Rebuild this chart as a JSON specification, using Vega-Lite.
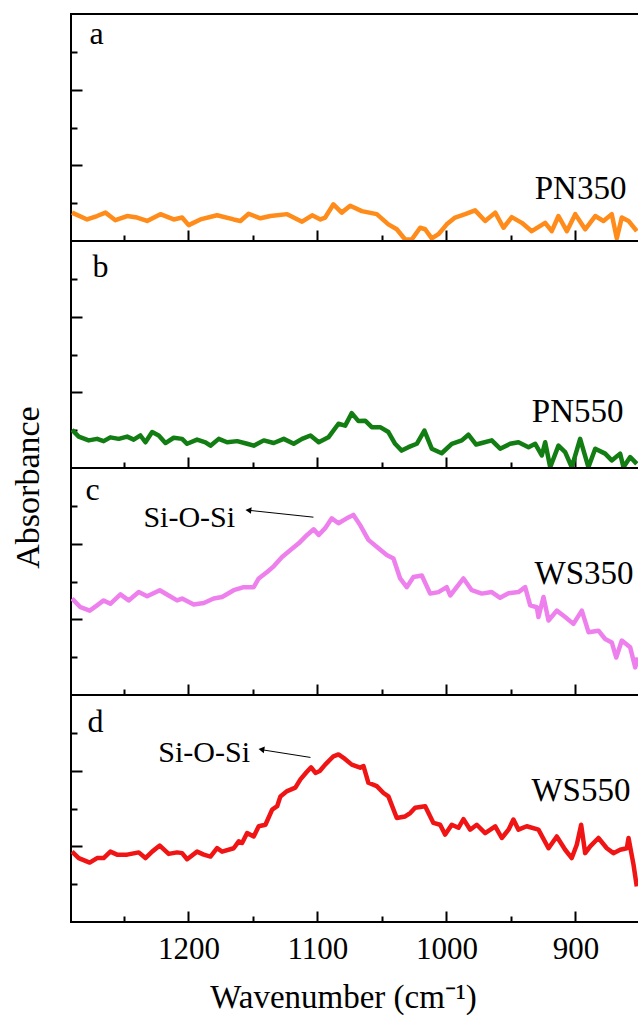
{
  "$schema": "https://vega.github.io/schema/vega-lite/v6.json",
  "background": "white",
  "padding": {"left": 9, "top": 13, "right": 0, "bottom": 0},
  "spacing": 0,
  "bounds": "flush",
  "config": {
    "font": "Liberation Serif",
    "view": {"stroke": "black", "strokeWidth": 2},
    "axis": {"grid": false, "domain": false, "tickColor": "black", "tickWidth": 2, "labelColor": "black", "titleColor": "black", "titleFontWeight": "normal", "labelFont": "Liberation Serif", "titleFont": "Liberation Serif"}
  },
  "datasets": {
    "spec": [
      {"p":"a","w":1290.2,"a":0.75},{"p":"a","w":1278.5,"a":0.57},{"p":"a","w":1270.8,"a":0.66},{"p":"a","w":1264.3,"a":0.75},{"p":"a","w":1256.6,"a":0.55},{"p":"a","w":1247.5,"a":0.66},{"p":"a","w":1239.8,"a":0.62},{"p":"a","w":1232.0,"a":0.53},{"p":"a","w":1221.7,"a":0.71},{"p":"a","w":1211.4,"a":0.57},{"p":"a","w":1204.9,"a":0.62},{"p":"a","w":1199.8,"a":0.42},{"p":"a","w":1190.7,"a":0.57},{"p":"a","w":1177.8,"a":0.68},{"p":"a","w":1164.9,"a":0.57},{"p":"a","w":1159.7,"a":0.53},{"p":"a","w":1153.3,"a":0.72},{"p":"a","w":1144.2,"a":0.60},{"p":"a","w":1136.4,"a":0.66},{"p":"a","w":1123.5,"a":0.71},{"p":"a","w":1111.9,"a":0.51},{"p":"a","w":1104.1,"a":0.68},{"p":"a","w":1097.7,"a":0.57},{"p":"a","w":1094.0,"a":0.62},{"p":"a","w":1087.6,"a":0.97},{"p":"a","w":1081.2,"a":0.75},{"p":"a","w":1074.6,"a":0.93},{"p":"a","w":1065.6,"a":0.79},{"p":"a","w":1054.0,"a":0.71},{"p":"a","w":1045.0,"a":0.44},{"p":"a","w":1038.5,"a":0.31},{"p":"a","w":1032.0,"a":0.04},{"p":"a","w":1026.9,"a":0.04},{"p":"a","w":1020.4,"a":0.35},{"p":"a","w":1016.5,"a":0.31},{"p":"a","w":1011.4,"a":0.07},{"p":"a","w":1006.2,"a":0.18},{"p":"a","w":999.8,"a":0.44},{"p":"a","w":993.3,"a":0.62},{"p":"a","w":985.5,"a":0.71},{"p":"a","w":977.8,"a":0.81},{"p":"a","w":970.0,"a":0.53},{"p":"a","w":962.2,"a":0.75},{"p":"a","w":955.8,"a":0.35},{"p":"a","w":949.4,"a":0.63},{"p":"a","w":941.6,"a":0.48},{"p":"a","w":933.9,"a":0.26},{"p":"a","w":923.5,"a":0.48},{"p":"a","w":918.4,"a":0.26},{"p":"a","w":913.2,"a":0.66},{"p":"a","w":906.7,"a":0.26},{"p":"a","w":900.2,"a":0.71},{"p":"a","w":892.5,"a":0.31},{"p":"a","w":884.7,"a":0.66},{"p":"a","w":878.3,"a":0.53},{"p":"a","w":871.9,"a":0.71},{"p":"a","w":868.0,"a":0.07},{"p":"a","w":864.1,"a":0.62},{"p":"a","w":858.9,"a":0.53},{"p":"a","w":852.5,"a":0.26},
      {"p":"b","w":1290.2,"a":1.01},{"p":"b","w":1285.0,"a":0.83},{"p":"b","w":1277.3,"a":0.73},{"p":"b","w":1270.8,"a":0.77},{"p":"b","w":1265.7,"a":0.71},{"p":"b","w":1260.5,"a":0.81},{"p":"b","w":1254.0,"a":0.77},{"p":"b","w":1247.5,"a":0.83},{"p":"b","w":1242.4,"a":0.75},{"p":"b","w":1237.2,"a":0.86},{"p":"b","w":1233.3,"a":0.68},{"p":"b","w":1228.1,"a":0.95},{"p":"b","w":1223.0,"a":0.86},{"p":"b","w":1217.8,"a":0.66},{"p":"b","w":1211.4,"a":0.80},{"p":"b","w":1204.9,"a":0.77},{"p":"b","w":1201.0,"a":0.64},{"p":"b","w":1193.3,"a":0.75},{"p":"b","w":1186.8,"a":0.68},{"p":"b","w":1182.9,"a":0.59},{"p":"b","w":1176.5,"a":0.77},{"p":"b","w":1170.0,"a":0.68},{"p":"b","w":1162.2,"a":0.71},{"p":"b","w":1154.5,"a":0.64},{"p":"b","w":1149.4,"a":0.59},{"p":"b","w":1141.6,"a":0.73},{"p":"b","w":1133.9,"a":0.66},{"p":"b","w":1126.1,"a":0.77},{"p":"b","w":1118.4,"a":0.64},{"p":"b","w":1111.9,"a":0.77},{"p":"b","w":1105.4,"a":0.86},{"p":"b","w":1099.0,"a":0.68},{"p":"b","w":1091.5,"a":0.81},{"p":"b","w":1083.7,"a":1.17},{"p":"b","w":1078.5,"a":1.12},{"p":"b","w":1073.4,"a":1.45},{"p":"b","w":1068.2,"a":1.24},{"p":"b","w":1063.0,"a":1.25},{"p":"b","w":1057.9,"a":1.08},{"p":"b","w":1051.4,"a":1.08},{"p":"b","w":1045.0,"a":0.95},{"p":"b","w":1039.8,"a":0.64},{"p":"b","w":1034.7,"a":0.46},{"p":"b","w":1029.5,"a":0.55},{"p":"b","w":1023.0,"a":0.64},{"p":"b","w":1017.1,"a":0.99},{"p":"b","w":1011.4,"a":0.51},{"p":"b","w":1003.7,"a":0.39},{"p":"b","w":995.9,"a":0.64},{"p":"b","w":988.1,"a":0.73},{"p":"b","w":983.0,"a":0.88},{"p":"b","w":977.0,"a":0.62},{"p":"b","w":972.6,"a":0.66},{"p":"b","w":964.9,"a":0.73},{"p":"b","w":958.4,"a":0.51},{"p":"b","w":950.6,"a":0.64},{"p":"b","w":944.2,"a":0.68},{"p":"b","w":936.4,"a":0.55},{"p":"b","w":931.2,"a":0.64},{"p":"b","w":926.1,"a":0.33},{"p":"b","w":923.5,"a":0.68},{"p":"b","w":919.6,"a":0.02},{"p":"b","w":913.2,"a":0.59},{"p":"b","w":908.0,"a":0.42},{"p":"b","w":902.9,"a":0.02},{"p":"b","w":896.4,"a":0.77},{"p":"b","w":890.0,"a":0.02},{"p":"b","w":884.7,"a":0.51},{"p":"b","w":877.0,"a":0.38},{"p":"b","w":871.9,"a":0.20},{"p":"b","w":865.4,"a":0.38},{"p":"b","w":862.8,"a":0.02},{"p":"b","w":857.6,"a":0.29},{"p":"b","w":852.5,"a":0.11},
      {"p":"c","w":1290.2,"a":2.55},{"p":"c","w":1283.7,"a":2.32},{"p":"c","w":1276.5,"a":2.23},{"p":"c","w":1270.8,"a":2.37},{"p":"c","w":1265.7,"a":2.50},{"p":"c","w":1260.5,"a":2.41},{"p":"c","w":1252.7,"a":2.66},{"p":"c","w":1246.3,"a":2.50},{"p":"c","w":1238.5,"a":2.72},{"p":"c","w":1232.0,"a":2.61},{"p":"c","w":1222.2,"a":2.77},{"p":"c","w":1215.3,"a":2.63},{"p":"c","w":1208.8,"a":2.50},{"p":"c","w":1204.9,"a":2.55},{"p":"c","w":1195.9,"a":2.39},{"p":"c","w":1188.1,"a":2.43},{"p":"c","w":1180.4,"a":2.55},{"p":"c","w":1173.9,"a":2.59},{"p":"c","w":1164.9,"a":2.77},{"p":"c","w":1157.1,"a":2.85},{"p":"c","w":1149.4,"a":2.85},{"p":"c","w":1145.5,"a":3.08},{"p":"c","w":1139.0,"a":3.25},{"p":"c","w":1133.9,"a":3.40},{"p":"c","w":1127.4,"a":3.65},{"p":"c","w":1120.9,"a":3.83},{"p":"c","w":1114.5,"a":4.01},{"p":"c","w":1108.0,"a":4.23},{"p":"c","w":1102.9,"a":4.38},{"p":"c","w":1099.0,"a":4.23},{"p":"c","w":1094.0,"a":4.41},{"p":"c","w":1088.9,"a":4.67},{"p":"c","w":1083.7,"a":4.54},{"p":"c","w":1077.3,"a":4.67},{"p":"c","w":1072.1,"a":4.76},{"p":"c","w":1066.9,"a":4.49},{"p":"c","w":1060.5,"a":4.10},{"p":"c","w":1052.7,"a":3.88},{"p":"c","w":1046.3,"a":3.70},{"p":"c","w":1041.1,"a":3.61},{"p":"c","w":1035.9,"a":3.08},{"p":"c","w":1030.8,"a":2.85},{"p":"c","w":1025.6,"a":3.12},{"p":"c","w":1019.1,"a":3.16},{"p":"c","w":1012.6,"a":2.68},{"p":"c","w":1006.2,"a":2.72},{"p":"c","w":999.8,"a":2.85},{"p":"c","w":997.1,"a":2.63},{"p":"c","w":986.8,"a":3.08},{"p":"c","w":980.4,"a":2.77},{"p":"c","w":972.6,"a":2.68},{"p":"c","w":964.9,"a":2.72},{"p":"c","w":958.4,"a":2.57},{"p":"c","w":951.9,"a":2.69},{"p":"c","w":944.2,"a":2.72},{"p":"c","w":939.0,"a":2.85},{"p":"c","w":935.1,"a":2.37},{"p":"c","w":930.0,"a":2.32},{"p":"c","w":928.7,"a":2.06},{"p":"c","w":924.8,"a":2.59},{"p":"c","w":920.9,"a":1.97},{"p":"c","w":914.5,"a":2.23},{"p":"c","w":908.0,"a":2.06},{"p":"c","w":901.6,"a":1.88},{"p":"c","w":895.1,"a":2.23},{"p":"c","w":889.9,"a":1.66},{"p":"c","w":882.2,"a":1.70},{"p":"c","w":877.0,"a":1.48},{"p":"c","w":871.9,"a":1.39},{"p":"c","w":868.4,"a":0.99},{"p":"c","w":864.1,"a":1.44},{"p":"c","w":857.6,"a":1.26},{"p":"c","w":853.7,"a":0.73},{"p":"c","w":851.7,"a":0.99},
      {"p":"d","w":1290.2,"a":1.86},{"p":"d","w":1285.0,"a":1.69},{"p":"d","w":1276.5,"a":1.57},{"p":"d","w":1270.8,"a":1.69},{"p":"d","w":1265.7,"a":1.69},{"p":"d","w":1260.5,"a":1.86},{"p":"d","w":1255.3,"a":1.78},{"p":"d","w":1247.5,"a":1.78},{"p":"d","w":1238.5,"a":1.84},{"p":"d","w":1233.3,"a":1.69},{"p":"d","w":1228.1,"a":1.86},{"p":"d","w":1222.2,"a":2.02},{"p":"d","w":1215.3,"a":1.80},{"p":"d","w":1208.8,"a":1.84},{"p":"d","w":1204.9,"a":1.82},{"p":"d","w":1201.0,"a":1.66},{"p":"d","w":1193.3,"a":1.86},{"p":"d","w":1188.1,"a":1.78},{"p":"d","w":1182.9,"a":1.73},{"p":"d","w":1177.8,"a":1.95},{"p":"d","w":1173.9,"a":1.86},{"p":"d","w":1164.9,"a":1.95},{"p":"d","w":1161.0,"a":2.13},{"p":"d","w":1158.4,"a":2.09},{"p":"d","w":1154.5,"a":2.35},{"p":"d","w":1149.4,"a":2.26},{"p":"d","w":1145.5,"a":2.53},{"p":"d","w":1140.3,"a":2.57},{"p":"d","w":1135.1,"a":2.97},{"p":"d","w":1131.2,"a":3.06},{"p":"d","w":1128.7,"a":3.32},{"p":"d","w":1123.5,"a":3.46},{"p":"d","w":1117.1,"a":3.55},{"p":"d","w":1113.2,"a":3.77},{"p":"d","w":1108.5,"a":3.96},{"p":"d","w":1104.9,"a":4.09},{"p":"d","w":1101.5,"a":3.94},{"p":"d","w":1098.2,"a":3.99},{"p":"d","w":1094.0,"a":4.16},{"p":"d","w":1087.6,"a":4.38},{"p":"d","w":1083.7,"a":4.43},{"p":"d","w":1079.8,"a":4.34},{"p":"d","w":1073.4,"a":4.16},{"p":"d","w":1066.9,"a":4.08},{"p":"d","w":1064.3,"a":4.12},{"p":"d","w":1060.5,"a":3.68},{"p":"d","w":1054.0,"a":3.59},{"p":"d","w":1048.8,"a":3.41},{"p":"d","w":1045.0,"a":3.32},{"p":"d","w":1038.5,"a":2.75},{"p":"d","w":1032.0,"a":2.79},{"p":"d","w":1028.1,"a":2.88},{"p":"d","w":1024.3,"a":3.02},{"p":"d","w":1016.5,"a":3.06},{"p":"d","w":1010.1,"a":2.62},{"p":"d","w":1004.9,"a":2.57},{"p":"d","w":1001.0,"a":2.31},{"p":"d","w":995.9,"a":2.57},{"p":"d","w":990.7,"a":2.49},{"p":"d","w":986.8,"a":2.72},{"p":"d","w":981.6,"a":2.44},{"p":"d","w":976.5,"a":2.57},{"p":"d","w":970.0,"a":2.35},{"p":"d","w":962.2,"a":2.53},{"p":"d","w":957.1,"a":2.22},{"p":"d","w":951.9,"a":2.44},{"p":"d","w":948.1,"a":2.71},{"p":"d","w":944.2,"a":2.44},{"p":"d","w":937.8,"a":2.53},{"p":"d","w":928.7,"a":2.44},{"p":"d","w":920.9,"a":1.95},{"p":"d","w":914.5,"a":2.26},{"p":"d","w":908.0,"a":1.91},{"p":"d","w":902.9,"a":1.69},{"p":"d","w":899.0,"a":2.04},{"p":"d","w":895.6,"a":2.57},{"p":"d","w":892.5,"a":1.82},{"p":"d","w":888.6,"a":2.00},{"p":"d","w":882.2,"a":2.22},{"p":"d","w":875.7,"a":1.95},{"p":"d","w":870.6,"a":1.82},{"p":"d","w":865.4,"a":1.91},{"p":"d","w":860.2,"a":1.95},{"p":"d","w":858.9,"a":2.22},{"p":"d","w":855.0,"a":1.51},{"p":"d","w":852.5,"a":0.94}
    ],
    "letters": [
      {"p":"a","t":"a","w":1276.6,"a":5.21},
      {"p":"b","t":"b","w":1274.4,"a":5.04},
      {"p":"c","t":"c","w":1279.8,"a":5.16},
      {"p":"d","t":"d","w":1278.3,"a":5.02}
    ],
    "bonds": [
      {"p":"c","t":"Si-O-Si","w":1234.9,"a":4.44},
      {"p":"d","t":"Si-O-Si","w":1223.3,"a":4.22}
    ],
    "samples": [
      {"p":"a","t":"PN350","w":860.5,"a":1.11},
      {"p":"b","t":"PN550","w":862.8,"a":1.21},
      {"p":"c","t":"WS350","w":855.0,"a":2.94},
      {"p":"d","t":"WS550","w":857.4,"a":3.19}
    ],
    "arrows": [
      {"p":"c","w":1103.1,"a":4.70,"w2":1152.7,"a2":4.88},
      {"p":"d","w":1105.4,"a":4.35,"w2":1142.6,"a2":4.55}
    ],
    "heads": [
      {"p":"c","w":1153.5,"a":4.885},
      {"p":"d","w":1143.4,"a":4.56}
    ]
  },
  "vconcat": [
    {
      "width": 569, "height": 227,
      "encoding": {
        "x": {"field": "w", "type": "quantitative", "scale": {"domain": [1291, 850], "nice": false, "zero": false},
              "axis": {"values": [1250,1200,1150,1100,1050,1000,950,900], "labels": false, "title": null, "tickSize": {"condition": {"test": "datum.value % 100 === 0", "value": -11}, "value": -6}}},
        "y": {"field": "a", "type": "quantitative", "scale": {"domain": [0, 6], "nice": false, "zero": false},
              "axis": {"values": [1,2,3,4,5], "labels": false, "title": null, "tickSize": {"condition": {"test": "datum.value % 2 === 0", "value": -11}, "value": -6}}}
      },
      "layer": [
        {"data": {"name": "spec"}, "transform": [{"filter": "datum.p === 'a'"}], "mark": {"type": "line", "color": "#FF8C1A", "strokeWidth": 4.5, "clip": true, "strokeJoin": "round"}},
        {"data": {"name": "letters"}, "transform": [{"filter": "datum.p === 'a'"}], "mark": {"type": "text", "align": "left", "baseline": "alphabetic", "fontSize": 32, "color": "black"}, "encoding": {"text": {"field": "t"}}},
        {"data": {"name": "samples"}, "transform": [{"filter": "datum.p === 'a'"}], "mark": {"type": "text", "align": "right", "baseline": "alphabetic", "fontSize": 33, "color": "black"}, "encoding": {"text": {"field": "t"}}}
      ]
    },
    {
      "width": 569, "height": 227,
      "encoding": {
        "x": {"field": "w", "type": "quantitative", "scale": {"domain": [1291, 850], "nice": false, "zero": false},
              "axis": {"values": [1250,1200,1150,1100,1050,1000,950,900], "labels": false, "title": null, "tickSize": {"condition": {"test": "datum.value % 100 === 0", "value": -11}, "value": -6}}},
        "y": {"field": "a", "type": "quantitative", "scale": {"domain": [0, 6], "nice": false, "zero": false},
              "axis": {"values": [1,2,3,4,5], "labels": false, "title": null, "tickSize": {"condition": {"test": "datum.value % 2 === 0", "value": -11}, "value": -6}}}
      },
      "layer": [
        {"data": {"name": "spec"}, "transform": [{"filter": "datum.p === 'b'"}], "mark": {"type": "line", "color": "#127D12", "strokeWidth": 4.5, "clip": true, "strokeJoin": "round"}},
        {"data": {"name": "letters"}, "transform": [{"filter": "datum.p === 'b'"}], "mark": {"type": "text", "align": "left", "baseline": "alphabetic", "fontSize": 32, "color": "black"}, "encoding": {"text": {"field": "t"}}},
        {"data": {"name": "samples"}, "transform": [{"filter": "datum.p === 'b'"}], "mark": {"type": "text", "align": "right", "baseline": "alphabetic", "fontSize": 33, "color": "black"}, "encoding": {"text": {"field": "t"}}}
      ]
    },
    {
      "width": 569, "height": 227,
      "encoding": {
        "x": {"field": "w", "type": "quantitative", "scale": {"domain": [1291, 850], "nice": false, "zero": false},
              "axis": {"values": [1250,1200,1150,1100,1050,1000,950,900], "labels": false, "title": null, "tickSize": {"condition": {"test": "datum.value % 100 === 0", "value": -11}, "value": -6}}},
        "y": {"field": "a", "type": "quantitative", "scale": {"domain": [0, 6], "nice": false, "zero": false},
              "axis": {"values": [1,2,3,4,5], "labels": false, "title": "Absorbance", "titleFontSize": 34, "titleX": -33, "titleY": 19, "titleAngle": -90, "titleAlign": "center", "titleBaseline": "alphabetic", "tickSize": {"condition": {"test": "datum.value % 2 === 0", "value": -11}, "value": -6}}}
      },
      "layer": [
        {"data": {"name": "spec"}, "transform": [{"filter": "datum.p === 'c'"}], "mark": {"type": "line", "color": "#EE80EE", "strokeWidth": 4.5, "clip": true, "strokeJoin": "round"}},
        {"data": {"name": "letters"}, "transform": [{"filter": "datum.p === 'c'"}], "mark": {"type": "text", "align": "left", "baseline": "alphabetic", "fontSize": 32, "color": "black"}, "encoding": {"text": {"field": "t"}}},
        {"data": {"name": "bonds"}, "transform": [{"filter": "datum.p === 'c'"}], "mark": {"type": "text", "align": "left", "baseline": "alphabetic", "fontSize": 30, "color": "black"}, "encoding": {"text": {"field": "t"}}},
        {"data": {"name": "samples"}, "transform": [{"filter": "datum.p === 'c'"}], "mark": {"type": "text", "align": "right", "baseline": "alphabetic", "fontSize": 33, "color": "black"}, "encoding": {"text": {"field": "t"}}},
        {"data": {"name": "arrows"}, "transform": [{"filter": "datum.p === 'c'"}], "mark": {"type": "rule", "color": "black", "strokeWidth": 1}, "encoding": {"x2": {"field": "w2"}, "y2": {"field": "a2"}}},
        {"data": {"name": "heads"}, "transform": [{"filter": "datum.p === 'c'"}], "mark": {"type": "point", "shape": "triangle-left", "filled": true, "color": "black", "size": 45, "angle": 6, "opacity": 1}}
      ]
    },
    {
      "width": 569, "height": 227,
      "encoding": {
        "x": {"field": "w", "type": "quantitative", "scale": {"domain": [1291, 850], "nice": false, "zero": false},
              "axis": {"values": [1250,1200,1150,1100,1050,1000,950,900], "format": "d", "labelExpr": "datum.value % 100 === 0 ? datum.label : ''", "labelFontSize": 31, "labelPadding": 23, "labelOverlap": false, "labelFlush": false, "title": "Wavenumber (cm⁻¹)", "titleFontSize": 33, "titleX": 272, "titleY": 85, "titleAlign": "center", "titleBaseline": "alphabetic", "tickSize": {"condition": {"test": "datum.value % 100 === 0", "value": -11}, "value": -6}}},
        "y": {"field": "a", "type": "quantitative", "scale": {"domain": [0, 6], "nice": false, "zero": false},
              "axis": {"values": [1,2,3,4,5], "labels": false, "title": null, "tickSize": {"condition": {"test": "datum.value % 2 === 0", "value": -11}, "value": -6}}}
      },
      "layer": [
        {"data": {"name": "spec"}, "transform": [{"filter": "datum.p === 'd'"}], "mark": {"type": "line", "color": "#F01414", "strokeWidth": 4.5, "clip": true, "strokeJoin": "round"}},
        {"data": {"name": "letters"}, "transform": [{"filter": "datum.p === 'd'"}], "mark": {"type": "text", "align": "left", "baseline": "alphabetic", "fontSize": 32, "color": "black"}, "encoding": {"text": {"field": "t"}}},
        {"data": {"name": "bonds"}, "transform": [{"filter": "datum.p === 'd'"}], "mark": {"type": "text", "align": "left", "baseline": "alphabetic", "fontSize": 30, "color": "black"}, "encoding": {"text": {"field": "t"}}},
        {"data": {"name": "samples"}, "transform": [{"filter": "datum.p === 'd'"}], "mark": {"type": "text", "align": "right", "baseline": "alphabetic", "fontSize": 33, "color": "black"}, "encoding": {"text": {"field": "t"}}},
        {"data": {"name": "arrows"}, "transform": [{"filter": "datum.p === 'd'"}], "mark": {"type": "rule", "color": "black", "strokeWidth": 1}, "encoding": {"x2": {"field": "w2"}, "y2": {"field": "a2"}}},
        {"data": {"name": "heads"}, "transform": [{"filter": "datum.p === 'd'"}], "mark": {"type": "point", "shape": "triangle-left", "filled": true, "color": "black", "size": 45, "angle": 9, "opacity": 1}}
      ]
    }
  ]
}
